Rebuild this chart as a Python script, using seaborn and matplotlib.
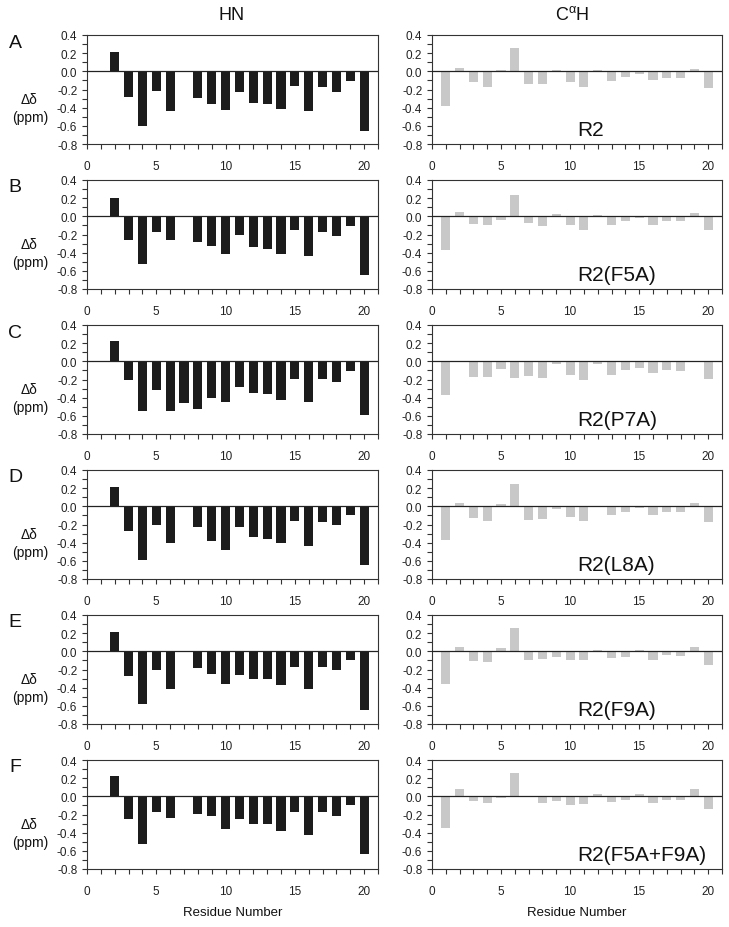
import numpy as np
import pandas as pd
import matplotlib
matplotlib.use("Agg")
import matplotlib.pyplot as plt
from matplotlib.ticker import MultipleLocator
import seaborn as sns

sns.set_style("ticks")
plt.rcParams['font.family'] = ['Liberation Sans', 'DejaVu Sans']
plt.rcParams['mathtext.fontset'] = 'custom'
plt.rcParams['mathtext.rm'] = 'Liberation Sans'
plt.rcParams['mathtext.it'] = 'Liberation Sans'

residues = list(range(1, 21))
nan = np.nan

panel_letters = ["A", "B", "C", "D", "E", "F"]
peptides = ["R2", "R2(F5A)", "R2(P7A)", "R2(L8A)", "R2(F9A)", "R2(F5A+F9A)"]

hn_R2 = [nan, 0.21, -0.28, -0.60, -0.22, -0.44, nan, -0.29, -0.36, -0.43,
         -0.23, -0.35, -0.36, -0.42, -0.16, -0.44, -0.17, -0.23, -0.11, -0.66]
hn_F5A = [nan, 0.20, -0.26, -0.52, -0.17, -0.26, nan, -0.28, -0.33, -0.41,
          -0.20, -0.34, -0.36, -0.42, -0.15, -0.44, -0.17, -0.22, -0.11, -0.65]
hn_P7A = [nan, 0.22, -0.21, -0.55, -0.32, -0.55, -0.46, -0.53, -0.40, -0.45,
          -0.28, -0.35, -0.36, -0.43, -0.19, -0.45, -0.19, -0.23, -0.11, -0.59]
hn_L8A = [nan, 0.21, -0.27, -0.59, -0.21, -0.40, nan, -0.23, -0.38, -0.48,
          -0.23, -0.34, -0.36, -0.40, -0.16, -0.44, -0.17, -0.21, -0.10, -0.65]
hn_F9A = [nan, 0.21, -0.27, -0.58, -0.21, -0.41, nan, -0.18, -0.25, -0.36,
          -0.26, -0.30, -0.30, -0.37, -0.17, -0.42, -0.17, -0.21, -0.10, -0.65]
hn_F5AF9A = [nan, 0.22, -0.25, -0.52, -0.17, -0.24, nan, -0.19, -0.22, -0.36,
             -0.25, -0.30, -0.30, -0.38, -0.17, -0.43, -0.17, -0.22, -0.10, -0.64]

ca_R2 = [-0.38, 0.04, -0.12, -0.17, 0.02, 0.26, -0.14, -0.14, 0.01, -0.12,
         -0.17, 0.01, -0.11, -0.06, -0.03, -0.10, -0.07, -0.07, 0.03, -0.18]
ca_F5A = [-0.37, 0.05, -0.08, -0.09, -0.04, 0.24, -0.07, -0.11, 0.03, -0.10,
          -0.15, 0.02, -0.09, -0.05, -0.02, -0.09, -0.05, -0.05, 0.04, -0.15]
ca_P7A = [-0.37, 0.005, -0.17, -0.17, -0.08, -0.18, -0.16, -0.18, -0.03, -0.15,
          -0.20, -0.03, -0.15, -0.10, -0.07, -0.13, -0.10, -0.11, 0.005, -0.19]
ca_L8A = [-0.37, 0.04, -0.13, -0.16, 0.03, 0.25, -0.15, -0.14, -0.03, -0.12,
          -0.16, 0.0, -0.10, -0.06, -0.02, -0.10, -0.06, -0.06, 0.04, -0.17]
ca_F9A = [-0.36, 0.05, -0.11, -0.12, 0.04, 0.26, -0.09, -0.08, -0.06, -0.10,
          -0.10, 0.01, -0.07, -0.06, 0.01, -0.09, -0.04, -0.05, 0.05, -0.15]
ca_F5AF9A = [-0.35, 0.08, -0.05, -0.07, -0.02, 0.26, -0.01, -0.07, -0.05, -0.09,
             -0.08, 0.03, -0.06, -0.04, 0.03, -0.07, -0.04, -0.04, 0.08, -0.14]

hn_sets = [hn_R2, hn_F5A, hn_P7A, hn_L8A, hn_F9A, hn_F5AF9A]
ca_sets = [ca_R2, ca_F5A, ca_P7A, ca_L8A, ca_F9A, ca_F5AF9A]

W, H = 729, 928
fig = plt.figure(figsize=(W / 100, H / 100), dpi=100)

def add_ax(x0, top, w, h):
    return fig.add_axes([x0 / W, 1 - (top + h) / H, w / W, h / H])

def style_ax(ax):
    ax.set_xlim(0, 21)
    ax.set_ylim(-0.8, 0.4)
    ax.xaxis.set_major_locator(MultipleLocator(5))
    ax.xaxis.set_minor_locator(MultipleLocator(1))
    ax.yaxis.set_minor_locator(MultipleLocator(0.1))
    ax.set_yticks([0.4, 0.2, 0.0, -0.2, -0.4, -0.6, -0.8])
    ax.set_yticklabels(["0.4", "0.2", "0.0", "-0.2", "-0.4", "-0.6", "-0.8"])
    ax.tick_params(which='both', direction='out', length=3.5, width=0.8,
                   colors='#333333', labelsize=8.5, labelcolor='#222222')
    ax.tick_params(axis='x', which='major', pad=8)
    for s in ax.spines.values():
        s.set_visible(True)
        s.set_linewidth(0.8)
        s.set_color('#333333')
    ax.axhline(0, color='#222222', lw=0.9, zorder=3)
    ax.set_xlabel("")
    ax.set_ylabel("")

for i in range(6):
    top = 36 + 145 * i
    axl = add_ax(87, top, 291, 109)
    axr = add_ax(432, top, 290, 109)

    dfl = pd.DataFrame({"res": residues, "val": hn_sets[i]}).dropna()
    dfr = pd.DataFrame({"res": residues, "val": ca_sets[i]})
    dfr = dfr[dfr["val"] != 0]

    sns.barplot(data=dfl, x="res", y="val", native_scale=True, width=0.66,
                color="#1c1c1c", saturation=1, ax=axl, zorder=2)
    sns.barplot(data=dfr, x="res", y="val", native_scale=True, width=0.66,
                color="#c8c8c8", saturation=1, ax=axr, zorder=2)
    for ax in (axl, axr):
        for p in ax.patches:
            p.set_edgecolor('none')
        style_ax(ax)

    axr.text(10.5, -0.70, peptides[i], fontsize=15, ha='left', va='baseline',
             color='#111111')

    fig.text(15 / W, 1 - (top + 7) / H, panel_letters[i], fontsize=14,
             ha='center', va='center', color='#111111')
    fig.text(29 / W, 1 - (top + 64) / H, "Δδ", fontsize=10,
             ha='center', va='center', color='#111111')
    fig.text(30 / W, 1 - (top + 82) / H, "(ppm)", fontsize=10,
             ha='center', va='center', color='#111111')

fig.text(232 / W, 1 - 15 / H, "HN", fontsize=13, ha='center', va='center',
         color='#111111')
fig.text(572 / W, 1 - 15 / H, r"C$^{\alpha}$H", fontsize=13, ha='center',
         va='center', color='#111111')
fig.text(233 / W, 1 - 913 / H, "Residue Number", fontsize=9.5, ha='center',
         va='center', color='#111111')
fig.text(577 / W, 1 - 913 / H, "Residue Number", fontsize=9.5, ha='center',
         va='center', color='#111111')

fig.savefig("out.png", dpi=100)
